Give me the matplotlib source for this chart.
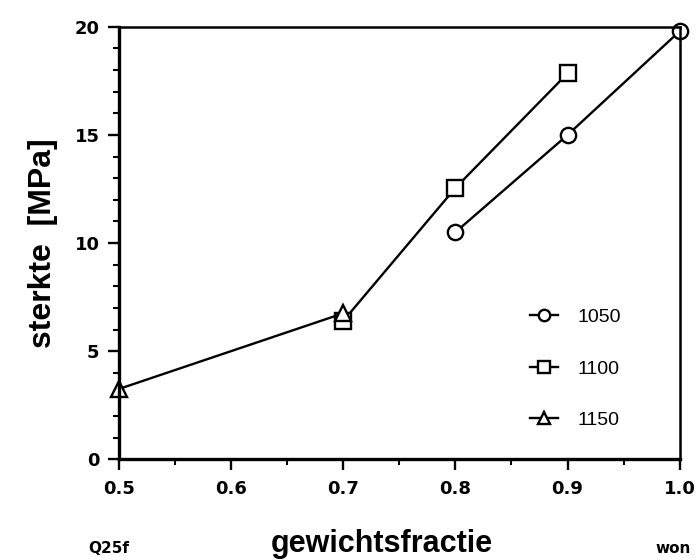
import numpy as np
import matplotlib
matplotlib.use("Agg")
import matplotlib.pyplot as plt
from matplotlib.ticker import MultipleLocator

plt.rcParams['font.family'] = ['Liberation Sans', 'DejaVu Sans']

# data
x_1050 = [0.8, 0.9, 1.0]
y_1050 = [10.5, 15.0, 19.8]
x_1100 = [0.7, 0.8, 0.9]
y_1100 = [6.4, 12.55, 17.85]
x_1150 = [0.5, 0.7]
y_1150 = [3.25, 6.75]
labels = ["1050", "1100", "1150"]
xticks = [0.5, 0.6, 0.7, 0.8, 0.9, 1.0]
yticks = [0, 5, 10, 15, 20]

fig = plt.figure(figsize=(7, 5.6), dpi=100)
ax = fig.add_axes([0.170, 0.180, 0.801, 0.772])

style = dict(color='black', lw=1.7, mfc='white', mec='black', mew=1.7, ms=11)
ax.plot(x_1050, y_1050, marker='o', label=labels[0], clip_on=False, **style)
ax.plot(x_1100, y_1100, marker='s', label=labels[1], clip_on=False, **style)
ax.plot(x_1150, y_1150, marker='^', label=labels[2], clip_on=False, **style)

ax.set_xlim(0.5, 1.0)
ax.set_ylim(0, 20)
ax.set_xticks(xticks)
ax.set_yticks(yticks)
tickfont = dict(family='DejaVu Sans', fontweight='bold', fontsize=13)
ax.set_xticklabels(["%.1f" % v for v in xticks], **tickfont)
ax.set_yticklabels([str(v) for v in yticks], **tickfont)
ax.xaxis.set_minor_locator(MultipleLocator(0.05))
ax.yaxis.set_minor_locator(MultipleLocator(1))
ax.tick_params(which='major', direction='out', length=8, width=1.7)
ax.tick_params(which='minor', direction='out', length=4.5, width=1.5)
ax.tick_params(axis='x', which='major', pad=7)
ax.tick_params(axis='y', which='major', pad=6)
for sp in ax.spines.values():
    sp.set_linewidth(1.8)
ax.spines['left'].set_linewidth(2.4)
ax.spines['bottom'].set_linewidth(2.4)

ax.set_ylabel("sterkte  [MPa]", fontsize=23, fontweight='bold', labelpad=12)

fig.text(0.546, 0.014, "gewichtsfractie", fontsize=22, fontweight='bold', ha='center', va='baseline')
fig.text(0.126, 0.0125, "Q25f", family='DejaVu Sans', fontsize=11, fontweight='bold',
         ha='left', va='baseline')
fig.text(0.936, 0.0125, "won", family='DejaVu Sans', fontsize=11, fontweight='bold',
         ha='left', va='baseline')

leg = ax.legend(loc='center left', bbox_to_anchor=(0.733, 0.209), frameon=False,
                fontsize=14, handlelength=1.45, handletextpad=1.0, labelspacing=1.75,
                borderpad=0, borderaxespad=0, markerscale=0.75)

fig.savefig("out.png", dpi=100)
